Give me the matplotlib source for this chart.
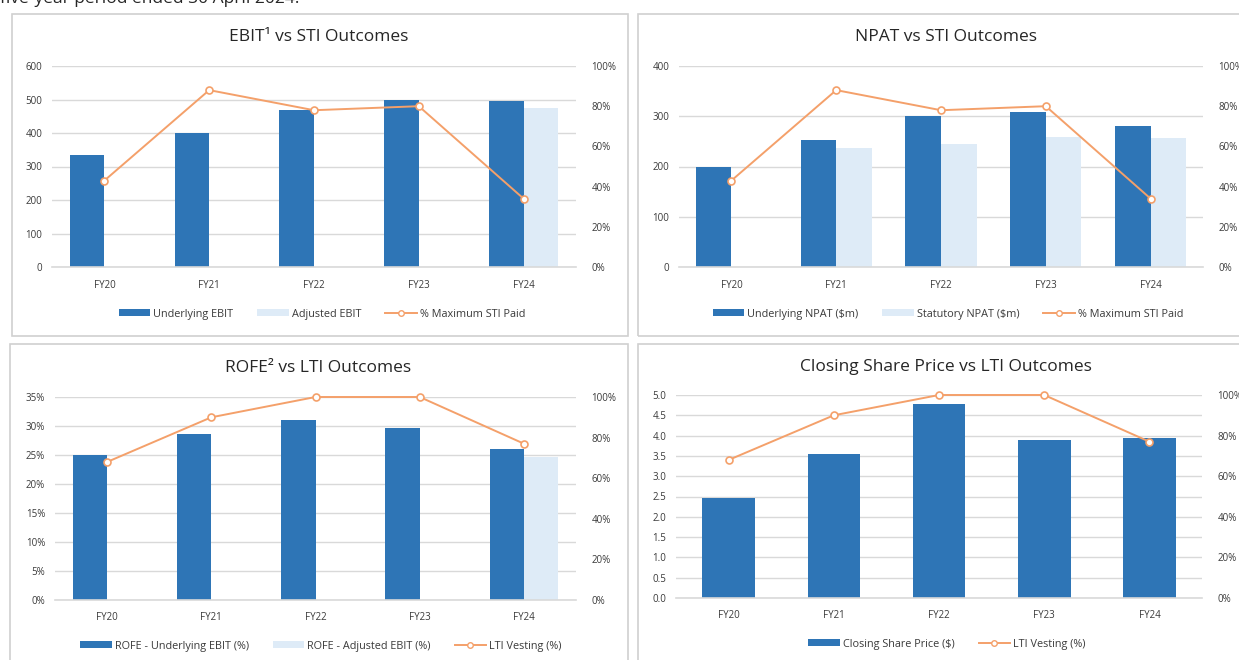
import matplotlib
matplotlib.use("Agg")
import matplotlib.pyplot as plt
import matplotlib.ticker as ticker
from matplotlib.patches import Rectangle, Patch
from matplotlib.lines import Line2D
import numpy as np

plt.rcParams["font.family"] = ["Open Sans", "DejaVu Sans"]

W, H = 1239, 660

years = ["FY20", "FY21", "FY22", "FY23", "FY24"]

# EBIT vs STI
underlying_ebit = [335, 400, 470, 500, 495]
adjusted_ebit = [np.nan, np.nan, np.nan, np.nan, 475]
sti_paid = [43, 88, 78, 80, 34]

# NPAT vs STI
underlying_npat = [200, 253, 300, 309, 281]
statutory_npat = [np.nan, 237, 245, 259, 256]

# ROFE vs LTI
rofe_underlying = [25.0, 28.7, 31.0, 29.6, 26.1]
rofe_adjusted = [np.nan, np.nan, np.nan, np.nan, 24.6]
lti_vesting = [68, 90, 100, 100, 77]

# Closing share price vs LTI
share_price = [2.47, 3.55, 4.78, 3.90, 3.93]

BLUE = "#2E75B6"
LIGHT = "#DEEBF7"
ORANGE = "#F4A06A"
GRID = "#D9D9D9"
TEXT = "#3A3A3A"

fig = plt.figure(figsize=(W / 100, H / 100), dpi=100)


def fx(x):
    return x / W


def fy(y):
    return 1 - y / H


def frame(left, top, right, bottom):
    fig.patches.append(Rectangle((fx(left), fy(bottom)), fx(right - left), (bottom - top) / H,
                                 transform=fig.transFigure, fill=False,
                                 edgecolor="#D0D0D0", linewidth=1.2))


def panel(box, title, title_xy, bars, bar_labels, bar_colors, width, ylim, yticks, yfmt,
          line_vals, line_label, legend_xy):
    left, top, right, bottom = box
    ax = fig.add_axes([fx(left), fy(bottom), fx(right - left), (bottom - top) / H])
    x = np.arange(len(years))
    n = len(bars)
    handles = []
    for i, (vals, lab, col) in enumerate(zip(bars, bar_labels, bar_colors)):
        off = (i - (n - 1) / 2) * width
        ax.bar(x + off, vals, width, color=col, zorder=2)
        handles.append(Patch(facecolor=col, label=lab))
    ax.set_xlim(-0.5, len(years) - 0.5)
    ax.set_ylim(*ylim)
    ax.set_yticks(yticks)
    ax.yaxis.set_major_formatter(ticker.FuncFormatter(yfmt))
    ax.set_xticks(x)
    ax.set_xticklabels(years)
    ax.grid(True, axis="y", color=GRID, linewidth=1)
    ax.set_axisbelow(True)
    for s in ["top", "right", "left"]:
        ax.spines[s].set_visible(False)
    ax.spines["bottom"].set_color(GRID)
    ax.spines["bottom"].set_linewidth(1.2)
    ax.tick_params(axis="both", length=0, labelsize=7, colors=TEXT)
    ax.tick_params(axis="y", pad=7)
    ax.tick_params(axis="x", pad=9)

    ax2 = ax.twinx()
    ax2.plot(x, line_vals, color=ORANGE, linewidth=1.4, marker="o", markersize=5,
             markerfacecolor="white", markeredgecolor=ORANGE, markeredgewidth=1.2,
             zorder=3, clip_on=False)
    ax2.set_ylim(0, 100)
    ax2.set_yticks([0, 20, 40, 60, 80, 100])
    ax2.yaxis.set_major_formatter(ticker.FuncFormatter(lambda v, p: f"{v:.0f}%"))
    for s in ax2.spines.values():
        s.set_visible(False)
    ax2.tick_params(axis="y", length=0, labelsize=7, colors=TEXT, pad=11)
    handles.append(Line2D([], [], color=ORANGE, linewidth=1.4, marker="o", markersize=4,
                          markerfacecolor="white", markeredgecolor=ORANGE, label=line_label))

    fig.text(fx(title_xy[0]), fy(title_xy[1]), title, ha="center", va="center",
             fontsize=12.5, color="#262626")
    fig.legend(handles=handles, loc="center", bbox_to_anchor=(fx(legend_xy[0]), fy(legend_xy[1])),
               bbox_transform=fig.transFigure, ncol=len(handles), frameon=False, fontsize=7.8,
               handlelength=2.9, handleheight=0.6, handletextpad=0.3, columnspacing=2.2,
               labelcolor=TEXT)
    return ax


# page text clipped at top
fig.text(0.0, fy(3), "five-year period ended 30 April 2024.", ha="left", va="baseline",
         fontsize=12.5, color="#262626")

frame(12, 14, 628, 336)
frame(638, 14, 1245, 336)
frame(10, 344, 628, 668)
frame(638, 344, 1245, 668)

panel((52, 66, 576, 267), "EBIT\u00b9 vs STI Outcomes", (319, 37),
      [underlying_ebit, adjusted_ebit], ["Underlying EBIT", "Adjusted EBIT"], [BLUE, LIGHT], 0.33,
      (0, 600), range(0, 601, 100), lambda v, p: f"{v:.0f}",
      sti_paid, "% Maximum STI Paid", (322, 314))

panel((679, 66, 1203, 267), "NPAT vs STI Outcomes", (946, 37),
      [underlying_npat, statutory_npat], ["Underlying NPAT ($m)", "Statutory NPAT ($m)"],
      [BLUE, LIGHT], 0.34, (0, 400), range(0, 401, 100), lambda v, p: f"{v:.0f}",
      sti_paid, "% Maximum STI Paid", (948, 314))

panel((55, 397, 576, 600), "ROFE\u00b2 vs LTI Outcomes", (318, 368),
      [rofe_underlying, rofe_adjusted], ["ROFE - Underlying EBIT (%)", "ROFE - Adjusted EBIT (%)"],
      [BLUE, LIGHT], 0.33, (0, 35), range(0, 36, 5), lambda v, p: f"{v:.0f}%",
      lti_vesting, "LTI Vesting (%)", (321, 646))

panel((676, 395, 1202, 598), "Closing Share Price vs LTI Outcomes", (946, 367),
      [share_price], ["Closing Share Price ($)"], [BLUE], 0.5, (0, 5),
      np.arange(0, 5.01, 0.5), lambda v, p: f"{v:.1f}",
      lti_vesting, "LTI Vesting (%)", (947, 644))

fig.savefig("out.png", dpi=100)
